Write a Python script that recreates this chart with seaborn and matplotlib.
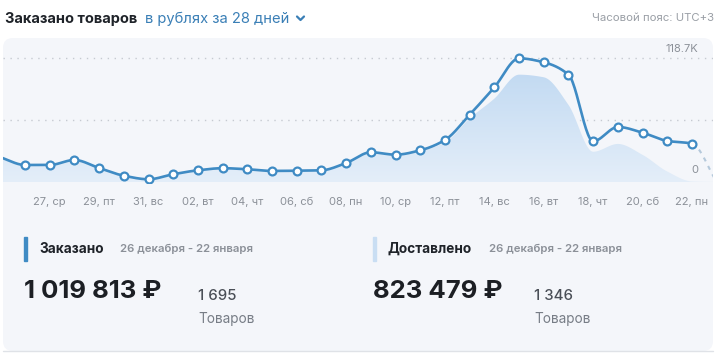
import numpy as np
import matplotlib
matplotlib.use("Agg")
import matplotlib.pyplot as plt
import seaborn as sns
from matplotlib.patches import FancyBboxPatch, Rectangle

# data (thousands of rubles per day), Dec 25 .. Jan 23
days = list(range(0, 30))
ordered = [23.7, 16.3, 16.3, 21.1, 13.4, 6.0, 2.6, 7.4, 11.2, 13.2, 12.2, 10.6, 10.8, 11.2,
           18.2, 28.5, 26.2, 30.4, 40.3, 64.6, 90.9, 118.7, 114.9, 103.0, 39.1, 52.8, 47.3,
           39.4, 36.8, 0.0]
delivered = [22.5, 15.8, 15.6, 20.4, 12.8, 5.6, 2.3, 6.9, 10.7, 12.6, 11.7, 10.1, 10.3, 10.7,
             17.5, 27.6, 25.5, 29.5, 38.0, 61.0, 80.0, 103.0, 100.5, 74.0, 29.0, 36.5, 26.0,
             10.0, 0.5, 0.0]
tick_days = [2, 4, 6, 8, 10, 12, 14, 16, 18, 20, 22, 24, 26, 28]
tick_labels = ["27, ср", "29, пт", "31, вс", "02, вт", "04, чт", "06, сб", "08, пн",
               "10, ср", "12, пт", "14, вс", "16, вт", "18, чт", "20, сб", "22, пн"]
y_max = 118.7

LINE = "#3f8bc4"
FONT = ["Inter", "DejaVu Sans"]


def pchip(x, y, n=24):
    x = np.asarray(x, float)
    y = np.asarray(y, float)
    h = np.diff(x)
    d = np.diff(y) / h
    m = np.zeros_like(y)
    m[0], m[-1] = d[0], d[-1]
    for k in range(1, len(y) - 1):
        if d[k - 1] * d[k] > 0:
            w1 = 2 * h[k] + h[k - 1]
            w2 = h[k] + 2 * h[k - 1]
            m[k] = (w1 + w2) / (w1 / d[k - 1] + w2 / d[k])
    xs, ys = [], []
    for k in range(len(x) - 1):
        t = np.linspace(0, 1, n, endpoint=False)
        h00 = 2 * t**3 - 3 * t**2 + 1
        h10 = t**3 - 2 * t**2 + t
        h01 = -2 * t**3 + 3 * t**2
        h11 = t**3 - t**2
        xs.append(x[k] + t * h[k])
        ys.append(h00 * y[k] + h10 * h[k] * m[k] + h01 * y[k + 1] + h11 * h[k] * m[k + 1])
    xs.append([x[-1]])
    ys.append([y[-1]])
    return np.concatenate(xs), np.concatenate(ys)


sns.set_theme(style="white")
plt.rcParams["font.family"] = FONT

fig = plt.figure(figsize=(7.2, 3.53), dpi=100)

# background in pixel coordinates
bg = fig.add_axes([0, 0, 1, 1])
bg.set_xlim(0, 720)
bg.set_ylim(353, 0)
bg.axis("off")
bg.add_patch(FancyBboxPatch((3, 38), 710, 313, boxstyle="round,pad=0,rounding_size=10",
                            fc="#f4f6fa", ec="none"))
bg.plot([3, 713], [351, 351], color="#dfe2e7", lw=1)

bg.text(5, 19, "Заказано товаров", fontsize=10.5, fontweight="bold", color="#1f2329", va="center")
bg.text(145, 19, "в рублях за 28 дней", fontsize=10.6, color="#3a7fb6", va="center")
bg.plot([297, 300.5, 304], [16.5, 20, 16.5], color="#3a7fb6", lw=1.6, solid_capstyle="round")
bg.text(714, 18, "Часовой пояс: UTC+3", fontsize=8.2, color="#9a9fa6", va="center", ha="right")

# summary blocks
bg.add_patch(Rectangle((24, 237), 2.5, 24, color=LINE))
bg.text(39, 249, "Заказано", fontsize=9.8, fontweight="bold", color="#1f2329", va="center")
bg.text(120, 249, "26 декабря - 22 января", fontsize=8.2, fontweight="semibold", color="#8b9098", va="center")
bg.text(24, 292, "1 019 813 ₽", fontsize=18.5, fontweight="bold", color="#1c1f24", va="center")
bg.text(198, 296, "1 695", fontsize=10.8, fontweight="medium", color="#4a4f57", va="center")
bg.text(198, 319, "Товаров", fontsize=9.8, color="#777d86", va="center")

bg.add_patch(Rectangle((373, 237), 2.5, 24, color="#c9def3"))
bg.text(387, 249, "Доставлено", fontsize=9.8, fontweight="bold", color="#1f2329", va="center")
bg.text(489, 249, "26 декабря - 22 января", fontsize=8.2, fontweight="semibold", color="#8b9098", va="center")
bg.text(373, 292, "823 479 ₽", fontsize=18.5, fontweight="bold", color="#1c1f24", va="center")
bg.text(534, 296, "1 346", fontsize=10.8, fontweight="medium", color="#4a4f57", va="center")
bg.text(534, 319, "Товаров", fontsize=9.8, color="#777d86", va="center")

# chart axes
ax = fig.add_axes([3 / 720, 1 - 183 / 353, 710 / 720, 143 / 353])
ax.set_facecolor("none")
ax.set_xlim(0.11, 28.85)
ax.set_ylim(-1.0, 136.3)

for v in [y_max, y_max / 2]:
    ax.axhline(v, color="#c6cad1", lw=1, ls=(0, (1, 4)), zorder=1)

# delivered area with vertical gradient
dx, dy = pchip(days, delivered)
poly = ax.fill_between(dx, 0, dy, color="none", lw=0)
grad = np.linspace(0, 1, 256).reshape(-1, 1)
cmap = matplotlib.colors.LinearSegmentedColormap.from_list("g", ["#c2daf2", "#e4eef9"])
im = ax.imshow(grad, cmap=cmap, aspect="auto", extent=[0, 29, 0, 105], origin="upper", zorder=2)
im.set_clip_path(poly.get_paths()[0], transform=ax.transData)

# ordered line
ox, oy = pchip(days, ordered)
solid = ox <= 28
sns.lineplot(x=ox[solid], y=oy[solid], ax=ax, color=LINE, lw=1.9, sort=False, zorder=3)
ax.plot(ox[ox >= 28], oy[ox >= 28], color="#b5c9db", lw=1.5,
        ls=(0, (2, 2.5)), zorder=3)
sns.scatterplot(x=days[1:29], y=ordered[1:29], ax=ax, s=32, color="white",
                edgecolor=LINE, linewidth=1.6, zorder=4)

ax.text(0.979, y_max + 8.6, "118.7K", transform=ax.get_yaxis_transform(),
        ha="right", va="center", fontsize=8, color="#8b9098")
ax.text(0.979, 11.5, "0", transform=ax.get_yaxis_transform(),
        ha="right", va="center", fontsize=8, color="#8b9098")

ax.set_xticks(tick_days)
ax.set_xticklabels(tick_labels, fontsize=8, color="#8b9098")
ax.tick_params(axis="x", length=0, pad=10)
ax.set_yticks([])
ax.set_xlabel("")
ax.set_ylabel("")
sns.despine(ax=ax, left=True, bottom=True)

fig.savefig("out.png", dpi=100)
